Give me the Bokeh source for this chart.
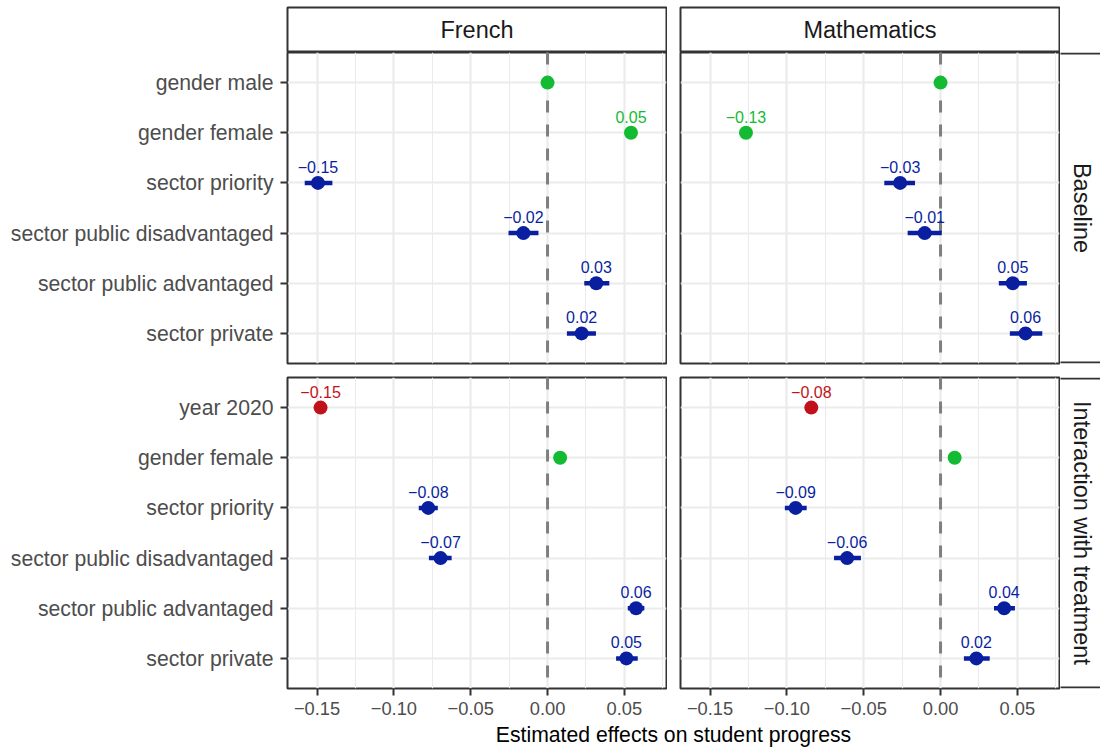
import math
from bokeh.plotting import figure
from bokeh.layouts import column, row
from bokeh.models import Range1d, FactorRange, FixedTicker, Span, ColumnDataSource
from bokeh.core.properties import value
from bokeh.embed import file_html
from bokeh.resources import INLINE

FONT = "Liberation Sans"

# ---------------- data ----------------
subjects = ["French", "Mathematics"]
facets = ["Baseline", "Interaction with treatment"]

rows_baseline = ["gender male", "gender female", "sector priority",
                 "sector public disadvantaged", "sector public advantaged", "sector private"]
groups_baseline = ["gender", "gender", "sector", "sector", "sector", "sector"]

rows_interaction = ["year 2020", "gender female", "sector priority",
                    "sector public disadvantaged", "sector public advantaged", "sector private"]
groups_interaction = ["year", "gender", "sector", "sector", "sector", "sector"]

french_base_est = [0.0, 0.0543, -0.1494, -0.0157, 0.0317, 0.0222]
french_base_lo = [None, None, -0.1580, -0.0254, 0.0239, 0.0126]
french_base_hi = [None, None, -0.1400, -0.0059, 0.0402, 0.0315]
french_base_lab = ["", "0.05", "\u22120.15", "\u22120.02", "0.03", "0.02"]

math_base_est = [0.0, -0.1266, -0.0263, -0.0103, 0.0470, 0.0553]
math_base_lo = [None, None, -0.0366, -0.0214, 0.0379, 0.0451]
math_base_hi = [None, None, -0.0166, 0.0008, 0.0562, 0.0662]
math_base_lab = ["", "\u22120.13", "\u22120.03", "\u22120.01", "0.05", "0.06"]

french_int_est = [-0.1477, 0.0082, -0.0776, -0.0696, 0.0576, 0.0513]
french_int_lo = [None, None, -0.0838, -0.0772, 0.0522, 0.0446]
french_int_hi = [None, None, -0.0714, -0.0624, 0.0630, 0.0587]
french_int_lab = ["\u22120.15", "", "\u22120.08", "\u22120.07", "0.06", "0.05"]

math_int_est = [-0.0841, 0.0092, -0.0943, -0.0608, 0.0414, 0.0233]
math_int_lo = [None, None, -0.1013, -0.0693, 0.0348, 0.0152]
math_int_hi = [None, None, -0.0871, -0.0518, 0.0484, 0.0320]
math_int_lab = ["\u22120.08", "", "\u22120.09", "\u22120.06", "0.04", "0.02"]

x_tick_values = [-0.15, -0.10, -0.05, 0.0, 0.05]
x_tick_labels = ["\u22120.15", "\u22120.10", "\u22120.05", "0.00", "0.05"]
x_minor_values = [-0.125, -0.075, -0.025, 0.025, 0.075]
x_title = "Estimated effects on student progress"

group_colors = {"gender": "#13BB32", "sector": "#0A1F9F", "year": "#C1121C"}

# ---------------- styling ----------------
BORDER = "#333333"
GRID = "#EBEBEB"
TICKTXT = "#4D4D4D"
FW, FH = 379, 311
BOTTOM = 46  # space below lower panels (axis ticks + labels)

allvals = [v for lst in (french_base_est, math_base_est, french_int_est, math_int_est,
                         french_base_lo, math_base_lo, french_int_lo, math_int_lo,
                         french_base_hi, math_base_hi, french_int_hi, math_int_hi)
           for v in lst if v is not None]
dmin, dmax = min(allvals), max(allvals)
pad = 0.05 * (dmax - dmin)
XMIN, XMAX = dmin - pad, dmax + pad


def make_panel(rows, groups, est, lo, hi, labels, show_y, show_x, left, top, bottom):
    p = figure(frame_width=FW, frame_height=FH,
               x_range=Range1d(XMIN, XMAX),
               y_range=FactorRange(factors=rows[::-1], range_padding=0.2 / 6),
               output_backend="svg", toolbar_location=None,
               min_border_left=left, min_border_right=1,
               min_border_top=top, min_border_bottom=bottom,
               background_fill_color="white", border_fill_color="white",
               outline_line_color=BORDER, outline_line_width=2)
    ticker = FixedTicker(ticks=x_tick_values, minor_ticks=x_minor_values)
    p.xaxis.ticker = ticker
    p.xgrid.ticker = ticker
    p.xgrid.grid_line_color = GRID
    p.xgrid.grid_line_width = 2.2
    p.xgrid.minor_grid_line_color = GRID
    p.xgrid.minor_grid_line_width = 1.1
    p.ygrid.grid_line_color = GRID
    p.ygrid.grid_line_width = 2.2

    p.xaxis.major_label_overrides = dict(zip(x_tick_values, x_tick_labels))
    for ax in (p.xaxis[0], p.yaxis[0]):
        ax.axis_line_color = None
        ax.major_tick_in = 0
        ax.major_tick_out = 7
        ax.major_tick_line_color = BORDER
        ax.major_tick_line_width = 2
        ax.minor_tick_line_color = None
        ax.major_label_text_font = FONT
        ax.major_label_text_color = TICKTXT
    p.xaxis.major_label_text_font_size = "18.3px"
    p.xaxis.major_label_standoff = 6
    p.yaxis.major_label_text_font_size = "21.2px"
    p.yaxis.major_label_standoff = 7
    p.xaxis.visible = show_x
    p.yaxis.visible = show_y

    p.add_layout(Span(location=0, dimension="height", line_color="#7F7F7F",
                      line_width=3, line_dash="12 12", level="underlay"))

    colors = [group_colors[g] for g in groups]
    ci_idx = [i for i in range(len(rows)) if lo[i] is not None]
    ci = ColumnDataSource(dict(y=[rows[i] for i in ci_idx], lo=[lo[i] for i in ci_idx],
                               hi=[hi[i] for i in ci_idx], c=[colors[i] for i in ci_idx]))
    p.segment(x0="lo", x1="hi", y0="y", y1="y", line_color="c", line_width=4.5,
              line_cap="butt", source=ci)
    src = ColumnDataSource(dict(y=rows, x=est, c=colors, lab=labels))
    p.scatter(x="x", y="y", size=14, fill_color="c", line_color=None, source=src)
    p.text(x="x", y="y", text="lab", text_color="c", text_align="center",
           text_baseline="middle", y_offset=-16,
           text_font=value(FONT), text_font_size=value("16px"), source=src)
    return p


def blank(fw, fh, top=0, bottom=0, **kw):
    p = figure(frame_width=fw, frame_height=fh, x_range=Range1d(0, fw), y_range=Range1d(0, fh),
               output_backend="svg", toolbar_location=None,
               x_axis_location=None, y_axis_location=None,
               min_border_left=0, min_border_right=0,
               min_border_top=top, min_border_bottom=bottom,
               outline_line_color=None, **kw)
    p.grid.visible = False
    return p


def top_strip(width, box_left, box_right, label):
    # canvas 52 tall; box top edge at y=7 from top, bottom edge at y=51
    p = blank(width, 52, background_fill_color="white", border_fill_color="white")
    p.quad(left=[box_left], right=[box_right], top=[45], bottom=[1],
           fill_color="white", line_color=BORDER, line_width=2)
    p.text(x=[(box_left + box_right) / 2], y=[23], text=[label],
           text_align="center", text_baseline="middle", text_color="#1A1A1A",
           text_font=value(FONT), text_font_size=value("23.5px"))
    return p


def side_strip(top, bottom, label):
    p = blank(40, FH, top=top, bottom=bottom,
              background_fill_color="white", border_fill_color="white")
    p.quad(left=[-10], right=[44], top=[FH - 1], bottom=[1],
           fill_color="white", line_color=BORDER, line_width=2)
    p.text(x=[21.5], y=[FH / 2], text=[label], angle=-math.pi / 2,
           text_align="center", text_baseline="middle", text_color="#1A1A1A",
           text_font=value(FONT), text_font_size=value("23.5px"))
    return p


s_fr = top_strip(667, 287, 666, subjects[0])
s_ma = top_strip(393, 13, 392, subjects[1])

pA = make_panel(rows_baseline, groups_baseline, french_base_est, french_base_lo, french_base_hi,
                french_base_lab, True, False, 287, 0, 7)
pB = make_panel(rows_baseline, groups_baseline, math_base_est, math_base_lo, math_base_hi,
                math_base_lab, False, False, 13, 0, 7)
sB = side_strip(0, 7, facets[0])

pC = make_panel(rows_interaction, groups_interaction, french_int_est, french_int_lo, french_int_hi,
                french_int_lab, True, True, 287, 7, BOTTOM)
pD = make_panel(rows_interaction, groups_interaction, math_int_est, math_int_lo, math_int_hi,
                math_int_lab, False, True, 13, 7, BOTTOM)
sI = side_strip(7, BOTTOM, facets[1])

# x-axis title shared by both lower panels; lower row ends at 52+318+7+311+BOTTOM
row2_end = 52 + 318 + 7 + FH + BOTTOM
overlap = 16
t_h = 749 - row2_end + overlap
t = blank(1100, t_h, background_fill_alpha=0, border_fill_alpha=0, margin=(-overlap, 0, 0, 0))
t.text(x=[673], y=[749 - 734], text=[x_title], text_align="center", text_baseline="middle",
       text_color="black", text_font=value(FONT), text_font_size=value("21.2px"))

layout = column(row(s_fr, s_ma), row(pA, pB, sB), row(pC, pD, sI), t)

open("out.html", "w").write(file_html(layout, INLINE))
